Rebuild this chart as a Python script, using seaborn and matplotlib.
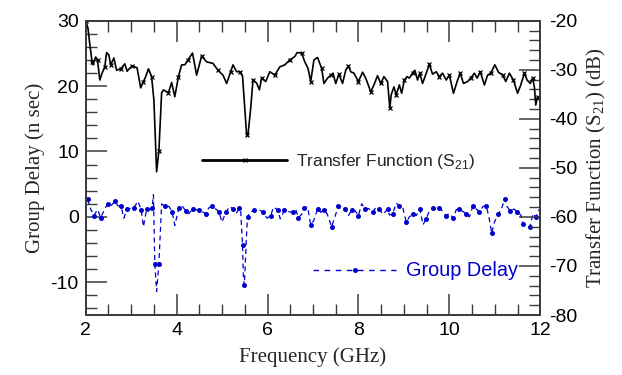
import numpy as np
import pandas as pd
import matplotlib
matplotlib.use("Agg")
import matplotlib.pyplot as plt
from matplotlib.ticker import MultipleLocator
from matplotlib.lines import Line2D
import seaborn as sns

# ---- Transfer function S21 (dB), right axis ----
s21_freq = [2.00, 2.05, 2.09, 2.14, 2.16, 2.22, 2.26, 2.31, 2.36, 2.42, 2.46, 2.51, 2.55, 2.62, 2.68,
            2.77, 2.86, 2.91, 3.02, 3.13, 3.21, 3.27, 3.32, 3.38, 3.45, 3.50, 3.56, 3.61, 3.67, 3.71,
            3.82, 3.89, 3.96, 4.04, 4.11, 4.18, 4.25, 4.35, 4.44, 4.55, 4.66, 4.80, 4.91, 5.02, 5.10,
            5.19, 5.24, 5.32, 5.39, 5.45, 5.48, 5.54, 5.57, 5.63, 5.68, 5.76, 5.82, 5.87, 5.96, 6.05,
            6.16, 6.27, 6.38, 6.49, 6.60, 6.65, 6.75, 6.82, 6.89, 6.95, 7.02, 7.10, 7.19, 7.24, 7.32,
            7.39, 7.44, 7.50, 7.57, 7.65, 7.72, 7.78, 7.83, 7.90, 8.00, 8.09, 8.16, 8.27, 8.34, 8.42,
            8.49, 8.56, 8.64, 8.69, 8.72, 8.78, 8.83, 8.90, 8.95, 9.01, 9.07, 9.12, 9.19, 9.24, 9.30,
            9.35, 9.41, 9.49, 9.56, 9.63, 9.71, 9.78, 9.85, 9.93, 10.00, 10.09, 10.17, 10.24, 10.31, 10.40,
            10.47, 10.55, 10.61, 10.68, 10.77, 10.84, 10.91, 11.00, 11.08, 11.17, 11.24, 11.32, 11.41, 11.50,
            11.57, 11.65, 11.71, 11.78, 11.83, 11.87, 11.90, 11.94, 11.99]
s21_db = [-20.0, -21.5, -24.8, -28.4, -29.0, -27.4, -28.0, -32.1, -30.7, -29.4, -26.5, -27.0, -29.0, -27.6, -30.1,
          -29.8, -28.8, -30.3, -29.2, -29.6, -33.7, -32.4, -31.4, -29.8, -31.4, -36.2, -50.8, -46.5, -34.7, -34.1,
          -34.7, -32.6, -35.5, -31.4, -29.0, -29.0, -28.0, -26.6, -31.1, -27.2, -28.4, -28.7, -30.1, -31.1, -32.8,
          -30.4, -29.0, -30.4, -30.4, -31.3, -35.4, -43.3, -43.3, -37.8, -32.1, -32.7, -34.1, -31.7, -32.4, -30.4,
          -31.1, -29.4, -29.0, -28.0, -27.3, -26.5, -26.6, -28.4, -29.7, -32.4, -28.0, -27.5, -29.7, -32.8, -31.7,
          -31.1, -30.7, -32.8, -30.9, -32.8, -30.1, -29.2, -30.4, -30.7, -32.4, -30.5, -31.7, -34.5, -33.1, -31.2,
          -32.8, -31.4, -32.4, -37.8, -35.1, -33.5, -35.1, -33.1, -34.8, -32.1, -31.4, -31.7, -30.7, -30.1, -32.1,
          -30.7, -32.8, -30.7, -28.9, -30.9, -30.4, -31.4, -30.7, -32.1, -31.1, -34.8, -32.4, -30.7, -32.8, -32.4,
          -31.7, -30.7, -31.7, -30.4, -33.1, -31.1, -30.7, -29.0, -30.5, -31.1, -32.4, -30.7, -32.1, -34.8,
          -33.1, -30.7, -32.1, -32.8, -31.7, -33.5, -37.2, -35.5, -36.2]

# ---- Group delay (ns), left axis ----
gd_freq = [2.04, 2.11, 2.18, 2.26, 2.33, 2.40, 2.48, 2.56, 2.64, 2.71, 2.78, 2.84, 2.91, 2.99, 3.06,
           3.15, 3.22, 3.27, 3.34, 3.41, 3.46, 3.49, 3.52, 3.56, 3.61, 3.67, 3.74, 3.83, 3.90, 3.96,
           4.05, 4.12, 4.20, 4.27, 4.35, 4.42, 4.49, 4.56, 4.64, 4.71, 4.78, 4.88, 4.93, 5.00, 5.08,
           5.17, 5.24, 5.31, 5.38, 5.41, 5.45, 5.47, 5.49, 5.54, 5.56, 5.61, 5.71, 5.80, 5.89, 5.99,
           6.07, 6.13, 6.22, 6.28, 6.37, 6.47, 6.55, 6.62, 6.68, 6.75, 6.81, 6.88, 6.95, 7.02, 7.10,
           7.17, 7.24, 7.31, 7.41, 7.48, 7.56, 7.63, 7.71, 7.78, 7.86, 7.93, 8.00, 8.07, 8.15, 8.22,
           8.31, 8.38, 8.45, 8.54, 8.64, 8.68, 8.75, 8.83, 8.90, 8.97, 9.05, 9.12, 9.19, 9.27, 9.35,
           9.42, 9.49, 9.57, 9.65, 9.71, 9.78, 9.86, 9.93, 10.00, 10.09, 10.15, 10.22, 10.30, 10.37, 10.44,
           10.52, 10.59, 10.66, 10.74, 10.81, 10.87, 10.93, 10.99, 11.07, 11.14, 11.22, 11.27, 11.34, 11.42,
           11.49, 11.57, 11.62, 11.69, 11.77, 11.84, 11.90, 11.97]
gd_ns = [2.7, 1.2, 0.2, 1.1, -0.1, 0.9, 2.0, 1.7, 2.4, 1.7, 1.6, -0.2, 1.2, 1.3, 1.4,
         2.4, 1.1, -1.5, 1.2, 1.1, 1.4, 3.4, -7.2, -11.4, -7.2, 2.0, 1.6, 1.6, 0.8, -1.3,
         1.4, 1.7, 0.9, 0.5, 1.2, 1.1, 1.1, 0.8, 0.5, 1.4, 1.6, 1.1, 0.8, -0.8, 0.7,
         1.6, 1.2, 0.5, 1.3, 0.8, -4.3, -9.5, -10.4, -2.4, 0.0, 0.7, 1.0, 1.1, 0.8, -0.2,
         0.2, 1.5, 1.1, -0.3, 1.0, 0.8, 0.7, 1.1, -0.1, 0.4, 1.4, 1.5, -1.2, -0.5, 1.2,
         0.7, 1.1, 0.5, -1.5, 0.0, 1.6, 1.1, 1.2, 0.2, 1.1, 0.9, 0.2, 2.0, 1.2, 1.3,
         0.7, 1.4, 1.2, 0.4, 1.2, 0.3, 0.4, 2.1, 1.7, 1.6, -0.8, 0.0, 0.4, 0.2, 1.2,
         -1.2, -0.3, 1.1, 1.3, 1.1, 1.4, 0.8, 0.2, 0.5, -0.2, 1.1, 1.2, 0.8, 0.5, 0.0,
         1.7, 1.2, 0.8, 1.6, 1.7, 0.0, -2.5, -0.8, 0.4, 1.1, 2.8, 1.6, 0.9, 1.2,
         0.8, 0.3, -1.1, -1.6, -1.5, 0.5, 0.0, 1.1]

x_ticks = [2, 4, 6, 8, 10, 12]
gd_ticks = [-10, 0, 10, 20, 30]
s21_ticks = [-80, -70, -60, -50, -40, -30, -20]

BLUE = "#0000CC"
SPINE = "#3c3c3c"

sns.set_theme(style="white")
plt.rcParams["font.family"] = ["Liberation Sans", "DejaVu Sans"]
plt.rcParams["mathtext.fontset"] = "custom"
plt.rcParams["mathtext.rm"] = "Liberation Sans"
plt.rcParams["axes.unicode_minus"] = False

fig = plt.figure(figsize=(6.22, 3.75), dpi=100)
ax = fig.add_axes([85.7 / 622, 1 - 315 / 375, (540.3 - 85.7) / 622, (315 - 20.7) / 375])
ax2 = ax.twinx()

gd_df = pd.DataFrame({"f": gd_freq, "gd": gd_ns})
s21_df = pd.DataFrame({"f": s21_freq, "db": s21_db})

sns.lineplot(data=gd_df, x="f", y="gd", ax=ax, color=BLUE, linewidth=0.9,
             marker="o", markersize=3.6, markeredgewidth=0, markevery=2, sort=False)
ax.lines[-1].set_dashes((4, 3))
sns.lineplot(data=s21_df, x="f", y="db", ax=ax2, color="black", linewidth=1.2,
             marker="x", markersize=3.5, markeredgewidth=0.9, markeredgecolor="black",
             markevery=3, sort=False)

ax.set_xlim(2, 12)
ax.set_ylim(-15, 30)
ax2.set_ylim(-80, -20)
ax.set_xticks(x_ticks)
ax.set_yticks(gd_ticks)
ax2.set_yticks(s21_ticks)
ax.xaxis.set_minor_locator(MultipleLocator(0.5))
ax.yaxis.set_minor_locator(MultipleLocator(2))
ax2.yaxis.set_minor_locator(MultipleLocator(2))

for a in (ax, ax2):
    for s in a.spines.values():
        s.set_color(SPINE)
        s.set_linewidth(1.3)
ax.tick_params(axis="x", which="both", direction="in", top=True, bottom=True, colors=SPINE,
               labelcolor="black", labelsize=14, pad=5)
ax.tick_params(axis="x", which="major", length=15, width=1.1)
ax.tick_params(axis="x", which="minor", length=8, width=1.0)
ax.tick_params(axis="y", which="both", direction="in", left=True, right=False, colors=SPINE,
               labelcolor="black", labelsize=14, pad=5)
ax.tick_params(axis="y", which="major", length=15, width=1.1)
ax.tick_params(axis="y", which="minor", length=8, width=1.0)
ax2.tick_params(axis="y", which="both", direction="in", right=True, left=False, colors=SPINE,
                labelcolor="black", labelsize=14, pad=6)
ax2.tick_params(axis="y", which="major", length=15, width=1.1)
ax2.tick_params(axis="y", which="minor", length=8, width=1.0)

ax.set_xlabel("Frequency (GHz)", family="Liberation Serif", fontsize=15, labelpad=6)
ax.set_ylabel("Group Delay (n sec)", family="Liberation Serif", fontsize=15, labelpad=4)
ax2.set_ylabel(r"Transfer Function (S$_{\mathregular{21}}$) (dB)", family="Liberation Serif",
               fontsize=15, labelpad=6)

h1 = Line2D([], [], color="black", linewidth=2.0, marker="x", markersize=3.5,
            markeredgewidth=0.9, markeredgecolor="black")
leg1 = ax2.legend([h1], [r"Transfer Function (S$_{\mathregular{21}}$)"], loc="center left",
                  bbox_to_anchor=(202 / 622, 1 - 162 / 375), bbox_transform=fig.transFigure,
                  frameon=False, fontsize=12.5, handlelength=4.9, handletextpad=0.5,
                  borderpad=0, borderaxespad=0, numpoints=1)
h2 = Line2D([], [], color=BLUE, linewidth=1.0, linestyle=(0, (4, 4)), marker="o",
            markersize=3.6, markeredgewidth=0)
leg2 = ax2.legend([h2], ["Group Delay"], loc="center left",
                  bbox_to_anchor=(313 / 622, 1 - 271 / 375), bbox_transform=fig.transFigure,
                  frameon=False, fontsize=14.3, handlelength=4.2, handletextpad=0.5,
                  borderpad=0, borderaxespad=0, numpoints=1, labelcolor=BLUE)
ax2.add_artist(leg1)

fig.savefig("out.png", dpi=100)
